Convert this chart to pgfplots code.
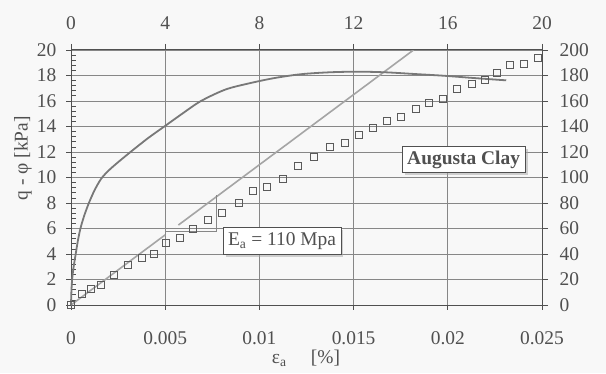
\documentclass[border=0pt]{standalone}
\usepackage{pgfplots}
\pgfplotsset{compat=1.18}
\usepackage{fontspec}
\setmainfont{Liberation Serif}
\usetikzlibrary{shadows}
\definecolor{txt}{RGB}{80,80,80}
\definecolor{gridc}{RGB}{135,135,135}
\definecolor{curvec}{RGB}{120,120,120}
\definecolor{linec}{RGB}{165,165,165}
\definecolor{markc}{RGB}{90,90,90}
\definecolor{bgc}{RGB}{248,248,248}
\begin{document}
\fontsize{19.5}{22}\selectfont
\begin{tikzpicture}[x=1bp,y=1bp]
\fill[bgc] (0,0) rectangle (606,373);
\useasboundingbox (0,0) rectangle (606,373);
\begin{axis}[
  at={(71bp,68bp)}, anchor=south west,
  scale only axis, width=471bp, height=255bp,
  xmin=0, xmax=0.025, ymin=0, ymax=20,
  scaled x ticks=false,
  xtick={0,0.005,0.01,0.015,0.02,0.025},
  xticklabels={0,0.005,0.01,0.015,0.02,0.025},
  ytick={0,2,...,20},
  minor y tick num=4,
  xtick pos=lower, ytick pos=left,
  tick align=inside,
  major tick length=-5bp, minor tick length=5bp,
  grid=major,
  major grid style={gridc, line width=0.9bp},
  axis line style={txt, line width=1bp},
  every tick/.style={txt, line width=0.8bp},
  /pgf/number format/assume math mode=true,
  tick label style={txt, font=\fontsize{19.5}{22}\selectfont},
  xticklabel style={yshift=-20bp},
  yticklabel style={xshift=-8bp},
  xlabel={ε\textsubscript{a}\quad\ [\%]},
  ylabel={q - φ [kPa]},
  label style={txt, font=\fontsize{19.5}{22}\selectfont},
  x label style={at={(rel axis cs:0.499,-0.208)}, anchor=center},
  y label style={at={(rel axis cs:-0.102,0.576)}, anchor=center},
  clip=false,
]
% E line
\addplot[linec, line width=1.6bp] coordinates {(0,0) (0.005,5.5)};
\addplot[linec, line width=1.6bp] coordinates {(0.0057,6.27) (0.01818,20)};
\draw[gridc, line width=0.9bp] (axis cs:0.005,5.73) -- (axis cs:0.0077,5.73) -- (axis cs:0.0077,8.63);
% stress-strain curve
\addplot[curvec, line width=1.8bp, smooth, tension=0.5] coordinates {
(0,0) (0.00002,1) (0.00006,2) (0.00014,3) (0.00025,4) (0.00036,5) (0.0005,6)
(0.0007,7) (0.00095,8) (0.00125,9) (0.0016,9.9) (0.002,10.55) (0.0025,11.2)
(0.0032,12.05) (0.0041,13.1) (0.005,14.05) (0.0059,15) (0.0069,16) (0.0082,16.9)
(0.0095,17.4) (0.0108,17.8) (0.0122,18.1) (0.0137,18.25) (0.0152,18.3)
(0.0167,18.25) (0.0182,18.12) (0.0198,17.98) (0.0214,17.8) (0.0231,17.62)};
% squares
\addplot[only marks, mark=square, mark size=3.5bp, mark options={markc, line width=0.9bp, fill=none}] coordinates {
(0,0) (0.00057,0.84) (0.00104,1.23) (0.00161,1.54) (0.0023,2.35) (0.0030,3.14)
(0.00375,3.66) (0.0044,4.0) (0.00504,4.84) (0.0058,5.23) (0.00646,5.94)
(0.00725,6.64) (0.0080,7.2) (0.0089,8.03) (0.00968,8.97) (0.01039,9.23)
(0.01124,9.88) (0.01203,10.9) (0.0129,11.63) (0.01375,12.37) (0.01454,12.68)
(0.0153,13.3) (0.01605,13.86) (0.01676,14.43) (0.01752,14.77) (0.0183,15.35)
(0.01902,15.82) (0.01973,16.16) (0.02047,16.94) (0.02127,17.31) (0.02197,17.65)
(0.0226,18.17) (0.0233,18.8) (0.02405,18.88) (0.02477,19.35)};
\node[draw=txt, fill=white, line width=0.8bp, inner xsep=5bp, inner ysep=5bp,
  drop shadow={shadow xshift=2.5bp, shadow yshift=-2.5bp, fill=gray!70}, text=txt]
  at (axis cs:0.0112,5.0) {E\textsubscript{a} = 110 Mpa};
\node[draw=txt, fill=white, line width=0.8bp, inner xsep=5bp, inner ysep=4bp,
  drop shadow={shadow xshift=2.5bp, shadow yshift=-2.5bp, fill=gray!70}, text=txt, font=\fontsize{19.5}{22}\selectfont\bfseries]
  at (axis cs:0.02084,11.4) {Augusta Clay};
\end{axis}
\begin{axis}[
  at={(71bp,68bp)}, anchor=south west,
  scale only axis, width=471bp, height=255bp,
  xmin=0, xmax=20, ymin=0, ymax=200,
  axis x line*=top, axis y line*=right,
  xtick={0,4,...,20}, ytick={0,20,...,200},
  tick align=outside, major tick length=6bp,
  axis line style={txt, line width=1bp},
  every tick/.style={txt, line width=0.8bp},
  /pgf/number format/assume math mode=true,
  tick label style={txt, font=\fontsize{19.5}{22}\selectfont},
  xticklabel style={yshift=8bp},
  yticklabel style={xshift=5bp},
]
\addplot[draw=none] coordinates {(0,0) (20,200)};
\end{axis}
\end{tikzpicture}
\end{document}
